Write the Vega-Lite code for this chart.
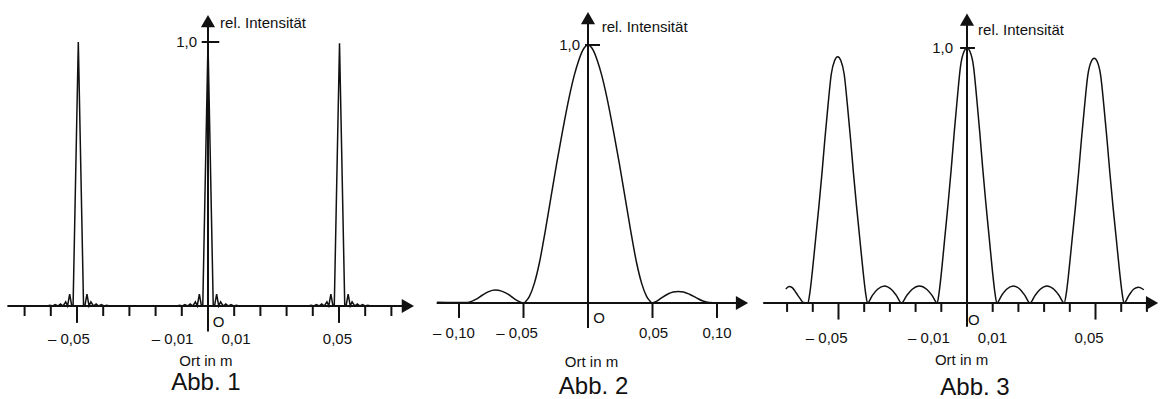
{
"$schema": "https://vega.github.io/schema/vega-lite/v6.json",
"padding": 0,
"spacing": 0,
"background": "white",
"config": {"view": {"stroke": null}, "text": {"font": "Liberation Sans", "color": "#111111"}},
"datasets": {
"c1": [
{"x":-0.0765,"y":0},{"x":-0.07,"y":0},{"x":-0.0615,"y":0},{"x":-0.0603,"y":0.003},{"x":-0.0593,"y":0},{"x":-0.0583,"y":0.005},{"x":-0.0573,"y":0},{"x":-0.0563,"y":0.008},{"x":-0.0553,"y":0},{"x":-0.0543,"y":0.016},{"x":-0.0536,"y":0},{"x":-0.0528,"y":0.045},{"x":-0.052,"y":0},{"x":-0.0515,"y":0},{"x":-0.0495,"y":1.0},{"x":-0.0475,"y":0},{"x":-0.047,"y":0},{"x":-0.0462,"y":0.045},{"x":-0.0454,"y":0},{"x":-0.0447,"y":0.016},{"x":-0.0437,"y":0},{"x":-0.0427,"y":0.008},{"x":-0.0417,"y":0},{"x":-0.0407,"y":0.005},{"x":-0.0397,"y":0},{"x":-0.0387,"y":0.003},{"x":-0.0375,"y":0},{"x":-0.025,"y":0},
{"x":-0.012,"y":0},{"x":-0.0108,"y":0.003},{"x":-0.0098,"y":0},{"x":-0.0088,"y":0.005},{"x":-0.0078,"y":0},{"x":-0.0068,"y":0.008},{"x":-0.0058,"y":0},{"x":-0.0048,"y":0.016},{"x":-0.0041,"y":0},{"x":-0.0033,"y":0.045},{"x":-0.0025,"y":0},{"x":-0.002,"y":0},{"x":0,"y":1.0},{"x":0.002,"y":0},{"x":0.0025,"y":0},{"x":0.0033,"y":0.045},{"x":0.0041,"y":0},{"x":0.0048,"y":0.016},{"x":0.0058,"y":0},{"x":0.0068,"y":0.008},{"x":0.0078,"y":0},{"x":0.0088,"y":0.005},{"x":0.0098,"y":0},{"x":0.0108,"y":0.003},{"x":0.012,"y":0},{"x":0.025,"y":0},
{"x":0.0382,"y":0},{"x":0.0394,"y":0.003},{"x":0.0404,"y":0},{"x":0.0414,"y":0.005},{"x":0.0424,"y":0},{"x":0.0434,"y":0.008},{"x":0.0444,"y":0},{"x":0.0454,"y":0.016},{"x":0.0461,"y":0},{"x":0.0469,"y":0.045},{"x":0.0477,"y":0},{"x":0.0482,"y":0},{"x":0.0502,"y":0.995},{"x":0.0522,"y":0},{"x":0.0527,"y":0},{"x":0.0535,"y":0.045},{"x":0.0543,"y":0},{"x":0.055,"y":0.016},{"x":0.056,"y":0},{"x":0.057,"y":0.008},{"x":0.058,"y":0},{"x":0.059,"y":0.005},{"x":0.06,"y":0},{"x":0.061,"y":0.003},{"x":0.0622,"y":0},{"x":0.0725,"y":0}
],
"c2": [
{"x":-0.117,"y":0.003},{"x":-0.105,"y":0.002},{"x":-0.095,"y":0.002},{"x":-0.0915,"y":0.004},{"x":-0.087,"y":0.014},{"x":-0.082,"y":0.03},{"x":-0.077,"y":0.044},{"x":-0.072,"y":0.05},{"x":-0.067,"y":0.046},{"x":-0.062,"y":0.034},{"x":-0.058,"y":0.02},{"x":-0.054,"y":0.007},{"x":-0.051,"y":0.001},{"x":-0.0495,"y":0},{"x":-0.0485,"y":0.005},{"x":-0.0455,"y":0.025},{"x":-0.0416,"y":0.076},{"x":-0.0377,"y":0.155},{"x":-0.0331,"y":0.28},{"x":-0.0287,"y":0.41},{"x":-0.0243,"y":0.54},{"x":-0.0196,"y":0.67},{"x":-0.0145,"y":0.8},{"x":-0.0105,"y":0.885},{"x":-0.0072,"y":0.94},{"x":-0.004,"y":0.98},{"x":0,"y":1.0},{"x":0.004,"y":0.98},{"x":0.0072,"y":0.94},{"x":0.0105,"y":0.885},{"x":0.0145,"y":0.8},{"x":0.0196,"y":0.67},{"x":0.0243,"y":0.54},{"x":0.0287,"y":0.41},{"x":0.0331,"y":0.28},{"x":0.0377,"y":0.155},{"x":0.0416,"y":0.076},{"x":0.0455,"y":0.025},{"x":0.0485,"y":0.005},{"x":0.0495,"y":0},{"x":0.053,"y":0.006},{"x":0.057,"y":0.02},{"x":0.062,"y":0.035},{"x":0.066,"y":0.043},{"x":0.07,"y":0.045},{"x":0.074,"y":0.043},{"x":0.079,"y":0.033},{"x":0.084,"y":0.02},{"x":0.089,"y":0.008},{"x":0.094,"y":0.002},{"x":0.1,"y":0.001},{"x":0.112,"y":0.001}
],
"c3": [
{"x":-0.0705,"y":0.055},{"x":-0.0692,"y":0.065},{"x":-0.068,"y":0.06},{"x":-0.0665,"y":0.04},{"x":-0.065,"y":0.018},{"x":-0.0637,"y":0.002},{"x":-0.0619,"y":0},
{"x":-0.0611,"y":0.043},{"x":-0.0602,"y":0.121},{"x":-0.0589,"y":0.251},{"x":-0.0576,"y":0.382},{"x":-0.0564,"y":0.512},{"x":-0.0553,"y":0.642},{"x":-0.0541,"y":0.773},{"x":-0.0528,"y":0.898},{"x":-0.0515,"y":0.951},{"x":-0.0503,"y":0.966},{"x":-0.0491,"y":0.951},{"x":-0.0478,"y":0.898},{"x":-0.0465,"y":0.773},{"x":-0.0453,"y":0.642},{"x":-0.0442,"y":0.512},{"x":-0.043,"y":0.382},{"x":-0.0417,"y":0.251},{"x":-0.0404,"y":0.121},{"x":-0.0395,"y":0.043},{"x":-0.0387,"y":0},
{"x":-0.0368,"y":0.03},{"x":-0.0348,"y":0.054},{"x":-0.0321,"y":0.067},{"x":-0.0295,"y":0.054},{"x":-0.0275,"y":0.03},{"x":-0.0255,"y":0},
{"x":-0.0234,"y":0.03},{"x":-0.0213,"y":0.054},{"x":-0.0185,"y":0.067},{"x":-0.0157,"y":0.054},{"x":-0.0136,"y":0.03},{"x":-0.0116,"y":0},
{"x":-0.0108,"y":0.045},{"x":-0.0099,"y":0.125},{"x":-0.0086,"y":0.26},{"x":-0.0073,"y":0.395},{"x":-0.0061,"y":0.53},{"x":-0.005,"y":0.665},{"x":-0.0038,"y":0.8},{"x":-0.0025,"y":0.93},{"x":-0.0012,"y":0.985},{"x":0,"y":1.0},{"x":0.0012,"y":0.985},{"x":0.0025,"y":0.93},{"x":0.0038,"y":0.8},{"x":0.005,"y":0.665},{"x":0.0061,"y":0.53},{"x":0.0073,"y":0.395},{"x":0.0086,"y":0.26},{"x":0.0099,"y":0.125},{"x":0.0108,"y":0.045},{"x":0.0116,"y":0},
{"x":0.0135,"y":0.03},{"x":0.0154,"y":0.054},{"x":0.018,"y":0.067},{"x":0.0206,"y":0.054},{"x":0.0225,"y":0.03},{"x":0.0245,"y":0},
{"x":0.0265,"y":0.03},{"x":0.0285,"y":0.054},{"x":0.0311,"y":0.067},{"x":0.0338,"y":0.054},{"x":0.0358,"y":0.03},{"x":0.0378,"y":0},
{"x":0.0387,"y":0.043},{"x":0.0396,"y":0.12},{"x":0.0409,"y":0.25},{"x":0.0422,"y":0.379},{"x":0.0434,"y":0.509},{"x":0.0445,"y":0.638},{"x":0.0457,"y":0.768},{"x":0.047,"y":0.893},{"x":0.0483,"y":0.946},{"x":0.0495,"y":0.96},{"x":0.0507,"y":0.946},{"x":0.052,"y":0.893},{"x":0.0533,"y":0.768},{"x":0.0545,"y":0.638},{"x":0.0556,"y":0.509},{"x":0.0568,"y":0.379},{"x":0.0581,"y":0.25},{"x":0.0594,"y":0.12},{"x":0.0603,"y":0.043},{"x":0.0611,"y":0},
{"x":0.063,"y":0.03},{"x":0.0648,"y":0.054},{"x":0.0668,"y":0.062},{"x":0.0688,"y":0.052}
],
"r1": [
{"x":-0.0765,"x2":0.0763,"y":0,"y2":0},{"x":0,"x2":0,"y":-0.097,"y2":1.079},{"x":-0.0024,"x2":0.0043,"y":1,"y2":1},
{"x":-0.07,"x2":-0.07,"y":0,"y2":-0.038},{"x":-0.06,"x2":-0.06,"y":0,"y2":-0.038},{"x":-0.05,"x2":-0.05,"y":0,"y2":-0.064},{"x":-0.04,"x2":-0.04,"y":0,"y2":-0.038},{"x":-0.03,"x2":-0.03,"y":0,"y2":-0.038},{"x":-0.02,"x2":-0.02,"y":0,"y2":-0.038},{"x":-0.01,"x2":-0.01,"y":0,"y2":-0.038},
{"x":0.01,"x2":0.01,"y":0,"y2":-0.038},{"x":0.02,"x2":0.02,"y":0,"y2":-0.038},{"x":0.03,"x2":0.03,"y":0,"y2":-0.038},{"x":0.04,"x2":0.04,"y":0,"y2":-0.038},{"x":0.05,"x2":0.05,"y":0,"y2":-0.064},{"x":0.06,"x2":0.06,"y":0,"y2":-0.038},{"x":0.07,"x2":0.07,"y":0,"y2":-0.038}
],
"r2": [
{"x":-0.1173,"x2":0.1194,"y":0,"y2":0},{"x":0,"x2":0,"y":-0.097,"y2":1.104},{"x":-0.0023,"x2":0.0093,"y":1,"y2":1},
{"x":-0.1,"x2":-0.1,"y":0,"y2":-0.058},{"x":-0.05,"x2":-0.05,"y":0,"y2":-0.058},{"x":0.05,"x2":0.05,"y":0,"y2":-0.058},{"x":0.1,"x2":0.1,"y":0,"y2":-0.058}
],
"r3": [
{"x":-0.0793,"x2":0.072,"y":0,"y2":0},{"x":0,"x2":0,"y":-0.093,"y2":1.111},{"x":-0.0027,"x2":0.0031,"y":1,"y2":1},
{"x":-0.07,"x2":-0.07,"y":0,"y2":-0.035},{"x":-0.06,"x2":-0.06,"y":0,"y2":-0.035},{"x":-0.05,"x2":-0.05,"y":0,"y2":-0.065},{"x":-0.04,"x2":-0.04,"y":0,"y2":-0.035},{"x":-0.03,"x2":-0.03,"y":0,"y2":-0.035},{"x":-0.02,"x2":-0.02,"y":0,"y2":-0.035},{"x":-0.01,"x2":-0.01,"y":0,"y2":-0.035},
{"x":0.01,"x2":0.01,"y":0,"y2":-0.035},{"x":0.02,"x2":0.02,"y":0,"y2":-0.035},{"x":0.03,"x2":0.03,"y":0,"y2":-0.035},{"x":0.04,"x2":0.04,"y":0,"y2":-0.035},{"x":0.05,"x2":0.05,"y":0,"y2":-0.065},{"x":0.06,"x2":0.06,"y":0,"y2":-0.035},{"x":0.07,"x2":0.07,"y":0,"y2":-0.035}
],
"a1": [{"x":0,"y":1.079,"d":"up"},{"x":0.0763,"y":0,"d":"right"}],
"a2": [{"x":0,"y":1.104,"d":"up"},{"x":0.1194,"y":0,"d":"right"}],
"a3": [{"x":0,"y":1.111,"d":"up"},{"x":0.072,"y":0,"d":"right"}],
"l1": [
{"x":-0.0531,"y":-0.125,"t":"– 0,05","k":"c"},{"x":-0.01355,"y":-0.125,"t":"– 0,01","k":"c"},{"x":0.0107,"y":-0.125,"t":"0,01","k":"c"},{"x":0.0494,"y":-0.125,"t":"0,05","k":"c"},
{"x":0.004,"y":-0.0606,"t":"O","k":"c"},{"x":-0.0008,"y":-0.208,"t":"Ort in m","k":"c"},{"x":-0.0008,"y":-0.2917,"t":"Abb. 1","k":"abb"},
{"x":0.0046,"y":1.072,"t":"rel. Intensität","k":"l"},{"x":-0.0042,"y":1.0,"t":"1,0","k":"r"}
],
"l2": [
{"x":-0.1039,"y":-0.116,"t":"– 0,10","k":"c"},{"x":-0.055,"y":-0.116,"t":"– 0,05","k":"c"},{"x":0.0508,"y":-0.116,"t":"0,05","k":"c"},{"x":0.1,"y":-0.116,"t":"0,10","k":"c"},
{"x":0.0085,"y":-0.058,"t":"O","k":"c"},{"x":0.0027,"y":-0.227,"t":"Ort in m","k":"c"},{"x":0.0043,"y":-0.326,"t":"Abb. 2","k":"abb"},
{"x":0.0106,"y":1.07,"t":"rel. Intensität","k":"l"},{"x":-0.0062,"y":1.0,"t":"1,0","k":"r"}
],
"l3": [
{"x":-0.0546,"y":-0.137,"t":"– 0,05","k":"c"},{"x":-0.0148,"y":-0.137,"t":"– 0,01","k":"c"},{"x":0.0099,"y":-0.137,"t":"0,01","k":"c"},{"x":0.0475,"y":-0.137,"t":"0,05","k":"c"},
{"x":0.0027,"y":-0.067,"t":"O","k":"c"},{"x":-0.0021,"y":-0.2235,"t":"Ort in m","k":"c"},{"x":0.0031,"y":-0.333,"t":"Abb. 3","k":"abb"},
{"x":0.0043,"y":1.071,"t":"rel. Intensität","k":"l"},{"x":-0.0054,"y":1.0,"t":"1,0","k":"r"}
]
},
"hconcat": [
{
"width": 420, "height": 399,
"encoding": {
"x": {"field":"x","type":"quantitative","scale":{"domain":[-0.07939,0.08092],"nice":false,"zero":false},"axis":null},
"y": {"field":"y","type":"quantitative","scale":{"domain":[-0.3523,1.1591],"nice":false,"zero":false},"axis":null}
},
"layer": [
{"data":{"name":"c1"},"mark":{"type":"line","color":"#111111","strokeWidth":1.5}},
{"data":{"name":"r1"},"mark":{"type":"rule","color":"#111111","strokeWidth":2},"encoding":{"x2":{"field":"x2"},"y2":{"field":"y2"}}},
{"data":{"name":"a1"},"transform":[{"filter":"datum.d=='up'"}],"mark":{"type":"point","shape":"triangle-up","filled":true,"size":200,"color":"#111111","opacity":1}},
{"data":{"name":"a1"},"transform":[{"filter":"datum.d=='right'"}],"mark":{"type":"point","shape":"triangle-right","filled":true,"size":200,"color":"#111111","opacity":1}},
{"data":{"name":"l1"},"transform":[{"filter":"datum.k=='c'"}],"mark":{"type":"text","fontSize":15,"align":"center","baseline":"middle"},"encoding":{"text":{"field":"t"}}},
{"data":{"name":"l1"},"transform":[{"filter":"datum.k=='abb'"}],"mark":{"type":"text","fontSize":24,"align":"center","baseline":"middle"},"encoding":{"text":{"field":"t"}}},
{"data":{"name":"l1"},"transform":[{"filter":"datum.k=='l'"}],"mark":{"type":"text","fontSize":15,"align":"left","baseline":"middle"},"encoding":{"text":{"field":"t"}}},
{"data":{"name":"l1"},"transform":[{"filter":"datum.k=='r'"}],"mark":{"type":"text","fontSize":15,"align":"right","baseline":"middle"},"encoding":{"text":{"field":"t"}}}
]
},
{
"width": 340, "height": 399,
"encoding": {
"x": {"field":"x","type":"quantitative","scale":{"domain":[-0.13023,0.13333],"nice":false,"zero":false},"axis":null},
"y": {"field":"y","type":"quantitative","scale":{"domain":[-0.3721,1.1744],"nice":false,"zero":false},"axis":null}
},
"layer": [
{"data":{"name":"c2"},"mark":{"type":"line","color":"#111111","strokeWidth":1.5,"interpolate":"monotone"}},
{"data":{"name":"r2"},"mark":{"type":"rule","color":"#111111","strokeWidth":2},"encoding":{"x2":{"field":"x2"},"y2":{"field":"y2"}}},
{"data":{"name":"a2"},"transform":[{"filter":"datum.d=='up'"}],"mark":{"type":"point","shape":"triangle-up","filled":true,"size":200,"color":"#111111","opacity":1}},
{"data":{"name":"a2"},"transform":[{"filter":"datum.d=='right'"}],"mark":{"type":"point","shape":"triangle-right","filled":true,"size":200,"color":"#111111","opacity":1}},
{"data":{"name":"l2"},"transform":[{"filter":"datum.k=='c'"}],"mark":{"type":"text","fontSize":15,"align":"center","baseline":"middle"},"encoding":{"text":{"field":"t"}}},
{"data":{"name":"l2"},"transform":[{"filter":"datum.k=='abb'"}],"mark":{"type":"text","fontSize":24,"align":"center","baseline":"middle"},"encoding":{"text":{"field":"t"}}},
{"data":{"name":"l2"},"transform":[{"filter":"datum.k=='l'"}],"mark":{"type":"text","fontSize":15,"align":"left","baseline":"middle"},"encoding":{"text":{"field":"t"}}},
{"data":{"name":"l2"},"transform":[{"filter":"datum.k=='r'"}],"mark":{"type":"text","fontSize":15,"align":"right","baseline":"middle"},"encoding":{"text":{"field":"t"}}}
]
},
{
"width": 403, "height": 399,
"encoding": {
"x": {"field":"x","type":"quantitative","scale":{"domain":[-0.08054,0.07626],"nice":false,"zero":false},"axis":null},
"y": {"field":"y","type":"quantitative","scale":{"domain":[-0.3765,1.1882],"nice":false,"zero":false},"axis":null}
},
"layer": [
{"data":{"name":"c3"},"mark":{"type":"line","color":"#111111","strokeWidth":1.5,"interpolate":"monotone"}},
{"data":{"name":"r3"},"mark":{"type":"rule","color":"#111111","strokeWidth":2},"encoding":{"x2":{"field":"x2"},"y2":{"field":"y2"}}},
{"data":{"name":"a3"},"transform":[{"filter":"datum.d=='up'"}],"mark":{"type":"point","shape":"triangle-up","filled":true,"size":200,"color":"#111111","opacity":1}},
{"data":{"name":"a3"},"transform":[{"filter":"datum.d=='right'"}],"mark":{"type":"point","shape":"triangle-right","filled":true,"size":200,"color":"#111111","opacity":1}},
{"data":{"name":"l3"},"transform":[{"filter":"datum.k=='c'"}],"mark":{"type":"text","fontSize":15,"align":"center","baseline":"middle"},"encoding":{"text":{"field":"t"}}},
{"data":{"name":"l3"},"transform":[{"filter":"datum.k=='abb'"}],"mark":{"type":"text","fontSize":24,"align":"center","baseline":"middle"},"encoding":{"text":{"field":"t"}}},
{"data":{"name":"l3"},"transform":[{"filter":"datum.k=='l'"}],"mark":{"type":"text","fontSize":15,"align":"left","baseline":"middle"},"encoding":{"text":{"field":"t"}}},
{"data":{"name":"l3"},"transform":[{"filter":"datum.k=='r'"}],"mark":{"type":"text","fontSize":15,"align":"right","baseline":"middle"},"encoding":{"text":{"field":"t"}}}
]
}
]
}
